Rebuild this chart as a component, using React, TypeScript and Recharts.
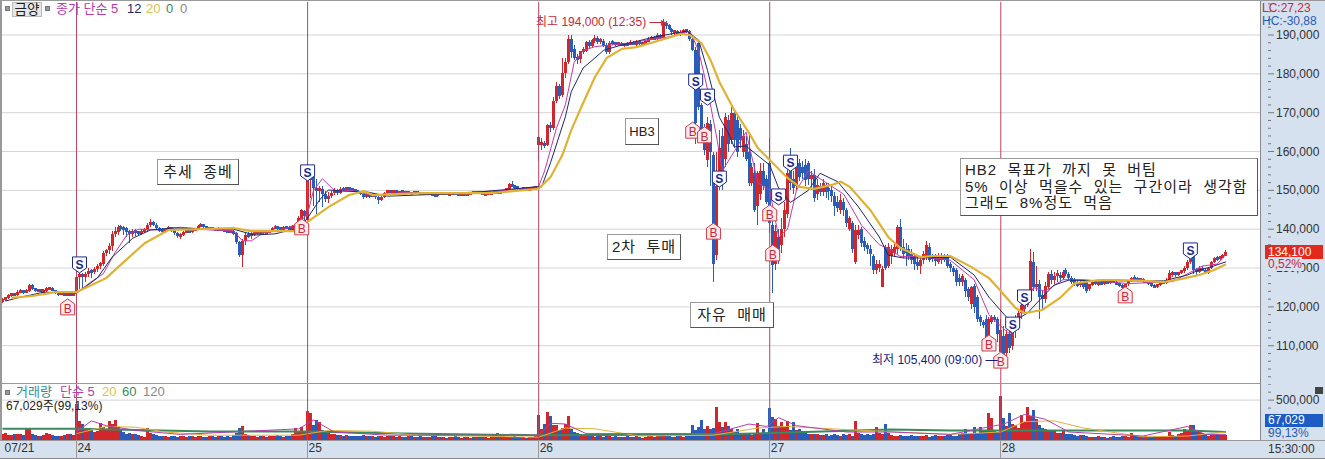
import { Bar, CartesianGrid, ComposedChart, Line, ReferenceDot, ReferenceLine, XAxis, YAxis } from 'recharts';

// 5 minute candles in thousand won: [open, high, low, close]
const day21Bars = [
  [121.5,122.3,121.1,121.9],[121.9,122.6,121.6,122.3],[122.3,123.2,122,122.9],[122.9,123.6,122.6,123.3],[123.3,123.5,122.7,123.1],[123.1,124.4,122.9,123.9],
  [123.9,124.6,123.7,124.2],[124.2,124.4,123.4,123.8],[123.8,124.5,123.6,124.1],[124.1,126,123.9,125.6],[125.6,126,124.4,124.6],[124.6,124.8,123.8,124.1],
  [124.1,124.7,123.9,124.3],[124.3,124.5,123.6,123.9],[123.9,124.5,123.7,124.1],[124.1,125,123.9,124.7],[124.7,125.2,124.4,124.9],[124.9,125.1,124,124.3],
  [124.3,124.4,123.3,123.7],[123.7,123.9,122.9,123.3],[123.3,123.8,123,123.5],[123.5,123.7,122.7,123.1],[123.1,123.7,122.8,123.4],[123.4,123.6,122.7,123],[123,123.9,122.8,123.6],
];
const day24Bars = [
  [124,127.8,122.2,127.6],[127.6,129.5,124.5,128.4],[128.4,128.8,124.8,127.8],[127.8,129,126.5,128.5],[128.5,130,127.8,129.3],[129.3,129.8,127.5,129],
  [129,130.2,128.5,129.8],[129.8,131,129,130.4],[130.4,131.6,129.8,131.2],[131,134.4,130.5,133.8],[133.8,135,133,134.6],[134.6,136.4,133.5,135.6],
  [135.6,139.5,134.5,138.8],[138.8,140.5,138,139.4],[139.4,141,138.5,140.6],[140.6,141,139.5,140.4],[140.4,140.8,138.5,140.2],[140.2,140.6,138,139.4],
  [139.4,139.8,136.5,138.8],[138.8,140,138,139.6],[139.6,140,138.3,139.2],[139.2,139.6,138.4,139],[139,140,138.5,139.4],[139.4,140.2,139,139.8],
  [139.8,141.5,139.2,141],[141,142.6,140.5,141.8],[141.8,142.2,140.8,141.2],[141.2,141.6,139.8,140.2],[140.2,140.5,139.2,139.8],[139.8,140.2,138.8,139.4],
  [139.4,140.2,139,139.9],[139.9,140.8,139.6,140.4],[140.4,140.6,139.4,139.8],[139.8,140.1,138.6,139.1],[139.1,139.4,137.8,138.3],[138.3,139,137.6,138.6],
  [138.6,139.5,138.3,139.2],[139.2,140,138.9,139.6],[139.6,139.9,139,139.4],[139.4,140.2,139.1,139.8],[139.8,140.4,139.6,140],[140,141,139.8,140.8],
  [140.8,141.6,140.5,141.2],[141.2,141.4,140.3,140.6],[140.6,140.9,140,140.2],[140.2,140.6,139.9,140.3],[140.3,140.5,139.8,140.1],[140.1,140.4,139.7,139.9],
  [139.9,140.5,139.6,140.2],[140.2,140.4,139.6,139.8],[139.8,140.1,139.3,139.6],[139.6,140,139,139.2],[139.2,139.7,139,139.4],[139.4,139.7,138.5,138.9],
  [138.9,139.3,136.2,136.6],[136.6,137,132.8,133.4],[133.4,137.6,130.3,137],[137,139.2,136,138.6],[138.6,139.2,137.8,138.2],[138.2,139.4,137.6,138.9],
  [138.9,139.6,138.3,139],[139,139.7,138.6,139.3],[139.3,139.8,138.8,139.2],[139.2,139.8,138.8,139.4],[139.4,139.7,138.7,139.1],[139.1,139.9,138.9,139.5],
  [139.5,140.6,139.2,140.2],[140.2,141.2,140,140.6],[140.6,140.9,139.9,140.3],[140.3,140.6,139.7,140.1],[140.1,140.8,139.9,140.5],[140.5,140.8,140.1,140.4],
  [140.4,140.7,139.9,140.2],[140.2,141,140,140.6],[140.6,141.4,140.3,141],[141,143.4,140.6,143],[139.6,145.2,139.2,145],[144.8,145,141,143.5],
];
const day25Bars = [
  [142.4,157.4,142,152.7],[152.7,156.5,148,154],[154.5,155,146,150.5],[150.5,153,144,149.8],[149.8,151,147,150.4],[150.4,151,145.7,149],
  [149,149.8,147,147.8],[147.8,149.5,146.8,148.6],[148.6,149.8,148,149.2],[149.2,150.6,148.8,150],[150,150.3,148.8,149.4],[149.4,150.8,149.1,150.4],
  [150.4,150.8,149.9,150.2],[150.2,150.9,149.9,150.6],[150.6,150.8,150.1,150.5],[150.5,150.6,149.9,150.2],[150.2,150.4,149.7,149.9],[149.9,150.1,149.3,149.6],
  [149.6,149.8,148.8,149.1],[149.1,149.3,147.9,148.4],[148.4,149.4,148,149],[149,149.2,148.1,148.6],[148.6,149.2,148.2,148.9],[148.9,149,147.8,148.2],
  [148.2,148.5,146.6,147.6],[147.6,148.6,147.2,148.3],[148.3,149.6,148,149.4],[149.4,150,149,149.8],[149.8,150,149.3,149.6],[149.6,150.1,149.3,149.9],
  [149.9,150,149.2,149.4],[149.4,149.9,149.1,149.7],[149.7,149.8,149.2,149.5],[149.5,149.7,149,149.3],[149.3,149.6,149.1,149.4],[149.4,149.5,149,149.2],
  [149.2,149.7,149,149.5],[149.5,149.6,149.2,149.4],[149.4,149.5,148.9,149.1],[149.1,149.5,149,149.3],[149.3,149.4,148.8,149],[149,149.4,148.8,149.2],
  [149.2,149.3,148.6,148.8],[148.8,149,148.3,148.6],[148.6,149.4,148.4,149.2],[149.2,149.3,148.8,149],[149,149.5,148.8,149.3],[149.3,149.4,148.8,149],
  [149,149.3,148.8,149.1],[149.1,149.5,148.9,149.3],[149.3,149.4,148.8,149.1],[149.1,149.2,148.7,148.9],[148.9,149.2,148.7,149],[149,149.1,148.5,148.7],
  [148.7,149.2,148.5,149.1],[149.1,149.6,149,149.4],[149.4,149.5,149.1,149.3],[149.3,149.6,149.2,149.5],[149.5,149.6,149.1,149.3],[149.3,149.4,148.7,148.9],
  [148.9,149.2,148.7,149],[149,149.4,148.9,149.2],[149.2,149.6,149.1,149.4],[149.4,149.7,149.3,149.5],[149.5,149.7,149.1,149.3],[149.3,149.8,149.2,149.6],
  [149.6,150.2,149.4,150],[150,150.6,149.8,150.4],[150.4,152,150.1,151.6],[151.6,152.4,150.8,151],[151,151.3,150.4,150.8],[150.8,151,150.2,150.5],
  [150.5,150.7,150,150.2],[150.2,150.9,150,150.6],[150.6,150.8,149.9,150.1],[150.1,150.6,150,150.4],[150.4,150.9,150.1,150.6],[150.6,150.9,150.3,150.7],
];
const day26Bars = [
  [163.7,163.9,157.5,161.8],[161.8,163.5,160.5,162.2],[162.2,162.6,161,161.5],[161.7,167.2,161.5,166.8],[166.8,167.5,165,166],[166,174,165.5,173],
  [173,178,172.5,176.8],[177,177.5,173.5,174.2],[174.5,184,174,180.2],[180.2,184,179,183],[183,190,182.5,189],[189,190,184,185.6],
  [186.3,187.5,183.5,184.2],[184.2,185,182.5,183.8],[183.8,186,182.8,185.8],[185.8,187,185,186.2],[186,188.5,185.5,188.2],[188.2,188.8,186.5,187.2],
  [187.2,189,186.8,188.6],[188.6,190,188,189.2],[189.2,189.8,187.8,188.2],[188.2,189.3,187.8,188.8],[188.5,188.9,187,187.2],[187.5,188,185,185.5],
  [185.5,188.5,185,188],[188,188.6,187.3,187.9],[187.9,188.3,187.2,187.6],[187.6,188,187.1,187.8],[187.8,188.2,187.3,187.5],[187.5,188,187,187.7],
  [187.7,188.2,187.2,187.6],[187.6,188.6,187.3,188.2],[188.2,188.4,187.3,187.5],[187.5,188.6,187.2,188.4],[188.4,188.6,187.5,187.8],[187.8,188.2,187.4,187.9],
  [187.9,188.7,187.7,188.4],[188.4,189.4,188.1,189],[189,189.8,188.7,189.4],[189.4,189.7,188.6,189],[189,190.4,188.8,190],[190,190.2,188.9,189.2],
  [189.3,194,189,193],[193,193.6,191.6,192.5],[192.5,192.9,191.2,191.6],[191.6,191.8,190,190.8],[190.6,191.4,189.6,191],[191,191.4,189.8,190.2],
  [190.2,191.2,189.8,190.8],[190.8,191.6,190.4,191.2],[191.2,191.5,190.6,191],[191,191.2,188.5,188.9],[188.9,189.3,186,186.2],[186.2,187,162,167.3],
  [188,188.3,170.8,171.5],[172,172.5,164,165.5],[165.5,167,159,160.5],[157.7,169,156,167.3],[167,168,151,160],[159,160,126.4,131],
  [133.4,160,132,151],[151,165.5,150,161],[164,166,150,152],[158,170,156,169],[168,169.5,160,162],[163,171.5,162,170],
  [170,171,161,163],[168,169.5,158.5,160],[166,167,161,163],[160,165.5,158.5,164],[162,164,157.5,158],[160,165,151,152],
  [152,157,151,156],[154.5,157,144.5,145],[146,155,141,154.5],[149,157,147.5,155],[155,157,150,151],[153,154,146.5,147],
];
const day27Bars = [
  [157,163.5,139,141.5],[141,144,123.6,130.7],[131,141,129.5,139.5],[138,140,131,133],[136,143,134,140],[140,147,138,145],
  [144,156,143,154.5],[158,161,150,152],[153,155,149,150.5],[151,158.5,150,157],[157,158,152.5,153.5],[156,157.5,153,154.5],
  [156.5,158,151,152.6],[157,157.5,151.5,152.8],[152.8,155,150,154],[154,155.5,147,148],[149,153,147.5,151.5],[151,152,148.5,149.5],
  [149.5,153,148.5,151.8],[151.5,152,148,149.5],[150.5,152,147.5,150],[150,151,147,148.5],[148.5,149.5,143.5,146],[147,148.5,144.5,145.5],
  [145,149,144,147.5],[147,148,143.5,145],[145,145.5,140.5,141.5],[140,143.5,139.5,142.8],[141.5,142,134,135],[131.5,141,131,139.7],
  [138.5,141,137.5,139.8],[140,140.5,135.5,136.5],[137,138,134.5,135.5],[136,136.5,133.5,135],[135,136,130.5,133.5],[133,133.5,128.5,129.5],
  [129.5,132,128.5,131],[130,132,129,131],[125,130.5,125,129.8],[135.5,136,129.5,130],[130.5,136.5,130,135.5],[133,136,131,135],
  [134,136.5,133,135.5],[135,141,133.5,140.5],[140.5,142.5,134.5,135.5],[135.5,137.5,132.5,133.5],[135,136.5,130.5,134],[135,136,132,133],
  [133.5,135,131,132],[133,134,129.5,131],[131.5,133,129.5,130.5],[130.5,133,128.5,132],[132,134.5,131,133.5],[132.5,137,132,136],
  [135.5,136.5,131.5,132],[133,133.5,131.5,132.5],[132.5,133.5,130.5,132],[131.5,134,131,132.5],[132,134,131,133],[133,133.5,131.5,132],
  [133,133.5,130,130.5],[131,131.5,129,130],[130,130.5,128,129],[129.5,130,125.5,126.5],[127.5,128.5,125.5,126.5],[126.5,128.5,125.5,128],
  [127,127.5,122.5,124],[124.5,125,121.5,122.5],[120.7,125.5,119.5,125],[125.5,126,118.5,120],[122.5,123,116,117],[117.5,118,115,116],
  [116,116.5,114.5,115.5],[117,118,109,110.5],[110.5,117.5,109,117],[116,117.8,115.5,117.4],[117.4,117.8,116,116.8],[116.8,117.5,111,113],
];
const day28Bars = [
  [108.4,117,105.4,114],[112.5,115,106.5,107.5],[108,114,107,113],[113,115,108,109.5],[110,116,109,115],[115,118,112,116.5],
  [116,119,114,118.5],[118.5,121.5,117,120.5],[119.5,122,118.5,121],[120.5,124,120,123.5],[123.5,135,123,131.8],[131.6,134.2,124,125],
  [125.5,130.5,124,125.5],[126,127,117,122.5],[123,124,119.5,122],[122,126.5,121,125.5],[125,129,124.5,128.5],[128.5,129.5,126,127],
  [127,129,126,128],[128,129.5,126.5,128.5],[128,129,126.5,127.5],[127.5,129.5,127,129],[129.5,130,128,128.5],[128.5,129,127,127.5],
  [127.5,128,126,126.5],[127,127.5,125.5,126],[126.5,127,125,125.5],[125.7,127,125,126.5],[126.5,127,124.5,125],[126.5,127,123.5,124],
  [124.5,126,124,125.8],[125.8,126.6,125.4,126.4],[126.4,126.8,125.7,126],[126,126.5,125.5,126.2],[126.2,126.6,125.6,125.9],[125.9,126.8,125.6,126.5],
  [126.5,126.9,126,126.2],[126.2,127,125.9,126.7],[126.7,127,126.1,126.4],[126.4,126.6,125.6,125.8],[125.8,126.2,125.2,125.5],[125.5,125.8,124.6,125],
  [125,126,124.8,125.8],[125.8,127,125.5,126.8],[126.8,127.8,126.4,127.5],[127.5,128.2,126.9,127.3],[127.3,127.6,126.5,127],[127,127.5,126.6,127.2],
  [127.2,127.4,126.2,126.5],[126.5,127,126.2,126.8],[126.8,127,125.7,126],[126,126.3,125,125.4],[125.4,125.8,124.8,125.2],[125.2,126,124.8,125.8],
  [125.8,126.4,125.5,126.1],[126.1,126.6,125.8,126.3],[126.3,127.4,126,127],[127,129.5,126.8,128.6],[128.6,129.3,127.8,128.8],[128.8,129,127.8,128.2],
  [128.2,129,127.9,128.8],[128.8,129.6,128.4,129.2],[129.2,130.4,128.8,130],[130,132,129.6,131.6],[131.6,133,131,132.8],[134,134.6,128.5,129.5],
  [129.5,130,128.3,129],[129,130.4,128.7,130],[130,130.6,129.2,129.5],[129.5,130,128.4,128.8],[128.8,130.2,128.5,130],[130,131.8,129.7,131.5],
  [131.5,132.8,131.2,132.5],[132.5,133,131.8,132.2],[132.2,133.2,131.9,133],[133,133.6,132.6,133.2],[133.2,134.6,133,134.1],
];

// volume per bar, thousand shares
const volumes21 = [70,85,60,60,75,80,70,60,140,135,80,60,55,50,60,85,75,60,55,45,50,65,70,75,60];
const volumes24 = [450,235,200,150,120,140,100,110,215,165,130,235,200,255,160,120,100,80,90,70,75,60,50,40,150,90,70,60,50,45,55,40,45,50,40,55,45,40,50,45,40,55,45,35,40,50,45,40,45,50,40,45,40,60,90,150,170,80,60,55,45,40,50,45,40,50,45,55,60,50,40,50,55,70,155,100,165,100];
const volumes25 = [365,340,190,255,230,130,100,90,70,75,60,65,55,60,50,45,55,50,45,60,50,45,55,40,45,50,40,45,50,55,40,45,35,40,45,50,40,35,45,40,35,40,45,50,40,35,40,30,35,40,45,35,30,40,35,30,35,40,35,40,35,30,45,60,90,65,50,40,35,40,45,35,40,35,30,35,40,45];
const volumes26 = [317,140,198,352,300,190,185,120,150,198,300,132,100,90,70,60,55,45,50,40,45,50,40,60,50,40,45,40,35,40,45,35,40,45,35,30,40,45,50,40,55,66,60,50,45,40,35,45,50,40,55,70,185,120,167,246,140,176,141,150,418,220,160,220,180,132,100,141,90,80,70,90,60,80,207,90,132,80];
const volumes27 = [396,286,264,180,220,160,242,130,220,120,141,110,90,80,75,70,80,65,60,75,55,60,70,65,55,80,60,75,50,233,90,70,60,80,65,70,167,85,70,198,90,60,55,50,65,55,50,45,60,55,45,50,55,60,40,50,60,55,45,50,60,70,50,45,70,90,132,80,90,162,85,162,110,130,333,277,120,100];
const volumes28 = [546,277,180,333,200,192,150,312,220,418,300,376,269,190,150,141,130,120,110,90,85,107,70,75,77,60,55,65,64,45,40,35,40,45,35,40,30,35,45,40,35,50,45,40,90,60,50,40,35,45,40,35,45,40,50,45,55,98,60,50,70,90,141,120,192,192,130,120,90,70,55,60,65,70,60,65,67];

// bar index and value
const ma5Points = [[25,123.6],[30,126.5],[34,128.5],[38,134],[42,138.5],[46,140],[52,139.8],[60,140.5],[70,139.8],[78,139.6],[81,137],[84,137],[88,139],[95,140],[100,141.5],[103,144],[105,150],[108,153],[112,150],[118,150],[125,148.6],[135,149.4],[150,149.2],[170,150],[181,151],[183,155],[187,166],[190,172],[193,183],[196,186],[200,187],[210,187.8],[225,189.5],[232,191],[235,186],[238,176],[241,164],[243,155],[247,160],[251,165],[255,152],[259,150],[262,138],[265,140],[268,150],[272,155],[278,152],[284,149],[290,141],[296,136],[299,135],[303,133],[310,133],[320,132],[328,127],[333,118],[337,115],[340,113],[344,118],[348,125],[352,124],[358,127],[365,127],[380,126],[395,126.5],[405,130.5],[410,131],[413,133.5]];
const ma12Points = [[1,121.5],[5,122.3],[14,123.8],[25,123.5],[32,127.4],[37,132.8],[44,137.7],[50,139.8],[58,140.3],[78,140],[85,138.5],[92,138.8],[100,140.3],[103,142.9],[107,147.5],[110,150.1],[115,149.8],[123,149.6],[130,148.5],[157,149.3],[180,150.9],[182,150.9],[185,157.1],[190,168.9],[192,175.4],[196,181.5],[200,184.1],[203,186.1],[208,187.2],[220,189.5],[231,191],[235,188.7],[238,180.9],[242,168.8],[245,164.8],[247,161.2],[251,161.4],[259,156.5],[262,150.6],[266,146.9],[272,150],[276,154.4],[282,152.2],[289,145.7],[296,138],[299,133.3],[304,132.6],[310,132.6],[320,132.8],[328,128.2],[333,122.5],[339,117.3],[342,116.6],[346,118.4],[351,122.5],[355,125.6],[360,126.9],[370,126.7],[392,126.7],[400,128.2],[404,129.5],[408,130.3],[413,131.6]];
const ma20Points = [[3,122.3],[10,122.8],[18,123.8],[25,123.8],[35,127.4],[41,131.6],[48,136.4],[56,139.8],[67,140],[78,140.3],[84,139.5],[100,139.5],[103,141.9],[110,145.7],[117,148.8],[122,149.8],[125,148.8],[142,149.3],[165,149.3],[181,150.4],[185,153.4],[189,159.1],[192,165.5],[196,172.5],[200,179.2],[204,184.1],[209,186.4],[214,186.9],[220,188.2],[229,190.3],[232,190],[236,187.9],[239,183.6],[242,177.9],[247,170.7],[252,164.8],[255,160.9],[259,157.8],[265,153.2],[269,150.9],[274,150.4],[280,151.4],[283,152.2],[286,150.9],[293,144.9],[299,138],[303,135.2],[310,132.8],[314,133.1],[320,133.1],[327,130.3],[333,127.4],[336,124.9],[342,119.7],[345,118.4],[351,119.2],[357,122.3],[362,126.1],[370,126.9],[377,126.9],[386,126.7],[392,126.4],[398,127.2],[404,128.2],[409,129.5],[413,131]];
const volMa5Points = [[25,100],[30,240],[35,180],[45,120],[60,70],[100,140],[105,250],[112,100],[130,60],[181,60],[185,210],[190,200],[197,80],[240,80],[252,200],[258,170],[262,280],[268,180],[285,100],[300,100],[320,70],[338,200],[345,320],[352,260],[360,100],[385,50],[400,170],[406,70],[413,70]];
const volMa20Points = [[25,80],[35,170],[45,160],[55,100],[70,60],[100,60],[110,120],[125,110],[140,60],[181,35],[190,150],[200,140],[215,50],[240,60],[255,150],[265,170],[285,130],[320,70],[337,100],[345,230],[355,240],[365,150],[385,40],[400,50],[413,100]];
const volMa60Points = [[0,140],[25,140],[70,107],[103,107],[135,80],[181,60],[240,70],[259,88],[300,132],[320,120],[400,120],[413,100]];

// buy and sell flags: bar index, price level in thousand won
const sellFlags = [[26,130.8],[103,154.5],[234,177.9],[238,174],[242,152.9],[262,148.3],[266,157],[341,115.3],[345,122.3],[401,134.4]];
const buyFlags = [[22,120],[101,140.6],[233,165.5],[237,164.3],[240,139.5],[259,144.2],[260,133.9],[333,110.7],[337,106.3],[379,123.1]];

const dayStarts = [25, 103, 181, 259, 337];
const dateTicks = [0, 25, 103, 181, 259, 337];
const dateLabels = ['07/21', '24', '25', '26', '27', '28'];
const priceMajorTicks = [110, 120, 130, 140, 150, 160, 170, 180, 190];
const priceTicks = [102,104,106,108,110,112,114,116,118,120,122,124,126,128,130,132,134,136,138,140,142,144,146,148,150,152,154,156,158,160,162,164,166,168,170,172,174,176,178,180,182,184,186,188,190,192,194,196,198];
const volumeTicks = [100, 200, 300, 400, 500, 600, 700];

const RED = '#d0262c';
const BLUE = '#2a5cb8';
const DAY_LINE = '#b8445e';
const PANEL = '#d5e1ee';
const FONT = '"Liberation Sans", "Noto Sans CJK KR", sans-serif';
const SLOTS = 425;

const allBars = [...day21Bars, ...day24Bars, ...day25Bars, ...day26Bars, ...day27Bars, ...day28Bars];
const allVolumes = [...volumes21, ...volumes24, ...volumes25, ...volumes26, ...volumes27, ...volumes28];

const rows: any[] = Array.from({ length: SLOTS }, (_, i) => {
  const b = allBars[i];
  return b ? { i, open: b[0], high: b[1], low: b[2], close: b[3], volume: allVolumes[i] } : { i };
});
const addPoints = (key: string, points: number[][]) => points.forEach(([i, v]) => { rows[i][key] = v; });
addPoints('ma5', ma5Points);
addPoints('ma12', ma12Points);
addPoints('ma20', ma20Points);
addPoints('vma5', volMa5Points);
addPoints('vma20', volMa20Points);
addPoints('vma60', volMa60Points);

function Candle(props: any) {
  const { x, y, width, height, payload } = props;
  if (payload.high == null || !height) return null;
  const unit = height / (payload.high - payload.low);
  const up = payload.close >= payload.open;
  const rawTop = y + (payload.high - Math.max(payload.open, payload.close)) * unit;
  const rawH = Math.abs(payload.close - payload.open) * unit;
  // the body never gets thinner than 3px, as in the trading screen
  const bodyH = Math.max(3, rawH);
  const top = rawTop - (bodyH - rawH) / 2;
  const left = Math.round(x + width / 2 - 1.5);
  const color = up ? RED : BLUE;
  return (
    <g shapeRendering="crispEdges">
      <rect x={left + 1} y={y} width={1} height={height} fill={color} />
      <rect x={left} y={top} width={3} height={bodyH} fill={color} />
    </g>
  );
}

function VolumeBar(props: any) {
  const { x, y, width, height, payload } = props;
  if (payload.volume == null) return null;
  const color = payload.close >= payload.open ? RED : BLUE;
  return <rect x={Math.round(x + width / 2 - 1.5)} y={y} width={3} height={height} fill={color} shapeRendering="crispEdges" />;
}

function SellFlag({ cx, cy }: any) {
  return (
    <g>
      <path d={`M${cx - 7} ${cy - 8}H${cx + 7}V${cy + 3}L${cx} ${cy + 8}L${cx - 7} ${cy + 3}Z`} fill="#fff" stroke="#1c2a90" />
      <text x={cx} y={cy + 4} textAnchor="middle" fontSize={12} fontWeight="bold" fill="#1c2a90" fontFamily={FONT}>S</text>
    </g>
  );
}

function BuyFlag({ cx, cy }: any) {
  return (
    <g>
      <path d={`M${cx} ${cy - 8}L${cx + 7} ${cy - 3}V${cy + 8}H${cx - 7}V${cy - 3}Z`} fill="#fdeaec" stroke="#d23a48" />
      <text x={cx} y={cy + 6} textAnchor="middle" fontSize={12} fill="#c8283c" fontFamily={FONT}>B</text>
    </g>
  );
}

function PriceTick({ x, y, payload }: any) {
  const major = payload.value % 10 === 0;
  return (
    <g>
      <line x1={x} x2={x + (major ? 6 : 3)} y1={y} y2={y} stroke="#777" />
      {major && (
        <text x={x + 8} y={y + 4} fontSize={12} fill="#333" fontFamily={FONT}>
          {`${payload.value},000`}
        </text>
      )}
    </g>
  );
}

function VolumeTick({ x, y, payload }: any) {
  const major = payload.value === 500;
  return (
    <g>
      <line x1={x} x2={x + (major ? 6 : 3)} y1={y} y2={y} stroke="#777" />
      {major && <text x={x + 8} y={y + 4} fontSize={12} fill="#333" fontFamily={FONT}>500,000</text>}
    </g>
  );
}

function DateTick({ x, y, payload }: any) {
  const label = dateLabels[dateTicks.indexOf(payload.value)];
  return (
    <text x={x + (payload.value === 0 ? 2 : 1)} y={y + 4} fontSize={12} fill="#333" fontFamily={FONT}>{label}</text>
  );
}

function Note({ left, top, width, height, children, center = true, size = 15, spacing = 1 }: any) {
  return (
    <div style={{ position: 'absolute', left, top, width, height, boxSizing: 'border-box', background: '#fff', border: '1px solid #9a9a9a', borderRightColor: '#555', borderBottomColor: '#555', fontFamily: FONT, fontSize: size, letterSpacing: spacing, lineHeight: center ? `${height - 2}px` : '16.5px', textAlign: center ? 'center' : 'left', color: '#222', whiteSpace: 'pre', padding: center ? 0 : '3px 0 0 4px' }}>
      {children}
    </div>
  );
}

function Label({ left, top, color, children, size = 12, background }: any) {
  return <div style={{ position: 'absolute', left, top, color, background, fontFamily: FONT, fontSize: size, lineHeight: '14px', whiteSpace: 'pre' }}>{children}</div>;
}

export default function App() {
  return (
    <div style={{ position: 'absolute', left: 0, top: 0, width: 1325, height: 459, background: '#fff', overflow: 'hidden' }}>
      <div style={{ position: 'absolute', left: 1260, top: 0, width: 65, height: 459, background: PANEL, borderLeft: '1px solid #888', boxSizing: 'border-box' }} />
      <div style={{ position: 'absolute', left: 0, top: 440, width: 1325, height: 19, background: PANEL, borderTop: '1px solid #999', borderBottom: '1px solid #888', boxSizing: 'border-box' }} />

      <div style={{ position: 'absolute', left: 0, top: 0 }}>
        <ComposedChart width={1325} height={384} data={rows} margin={{ top: 2, right: 0, bottom: 1, left: 1 }} barCategoryGap={0}>
          <CartesianGrid vertical={false} stroke="#d4d4d4" horizontalValues={priceMajorTicks} />
          <XAxis dataKey="i" hide />
          <YAxis orientation="right" width={65} domain={[100.4, 198.5]} allowDataOverflow ticks={priceTicks} interval={0} axisLine={false} tickLine={false} tick={<PriceTick />} />
          {dayStarts.map((d) => <ReferenceLine key={d} x={d} stroke={DAY_LINE} />)}
          <Bar dataKey={(d: any) => (d.high == null ? null : [d.low, d.high])} shape={<Candle />} isAnimationActive={false} />
          <Line dataKey="ma5" stroke="#c23aa8" strokeWidth={1} dot={false} connectNulls isAnimationActive={false} />
          <Line dataKey="ma12" stroke="#1c2a6a" strokeWidth={1} dot={false} connectNulls isAnimationActive={false} />
          <Line dataKey="ma20" stroke="#e0b234" strokeWidth={2.2} dot={false} connectNulls isAnimationActive={false} />
          {sellFlags.map(([i, p]) => <ReferenceDot key={`s${i}`} x={i} y={p} shape={<SellFlag />} />)}
          {buyFlags.map(([i, p]) => <ReferenceDot key={`b${i}`} x={i} y={p} shape={<BuyFlag />} />)}
        </ComposedChart>
      </div>

      <div style={{ position: 'absolute', left: 0, top: 384 }}>
        <ComposedChart width={1325} height={75} data={rows} margin={{ top: 0, right: 0, bottom: 0, left: 1 }} barCategoryGap={0}>
          <CartesianGrid vertical={false} stroke="#d4d4d4" horizontalValues={[500]} />
          <XAxis dataKey="i" height={19} ticks={dateTicks} interval={0} axisLine={false} tickLine={false} tick={<DateTick />} />
          <YAxis orientation="right" width={65} domain={[0, 702]} allowDataOverflow ticks={volumeTicks} interval={0} axisLine={false} tickLine={false} tick={<VolumeTick />} />
          <Bar dataKey="volume" shape={<VolumeBar />} isAnimationActive={false} />
          <Line dataKey="vma60" stroke="#3a8a5c" strokeWidth={2} dot={false} connectNulls isAnimationActive={false} />
          <Line dataKey="vma20" stroke="#e0b234" strokeWidth={1} dot={false} connectNulls isAnimationActive={false} />
          <Line dataKey="vma5" stroke="#b040b0" strokeWidth={1} dot={false} connectNulls isAnimationActive={false} />
          {dayStarts.map((d) => <ReferenceLine key={d} x={d} stroke={DAY_LINE} />)}
        </ComposedChart>
      </div>

      {/* frame */}
      <div style={{ position: 'absolute', left: 0, top: 0, width: 2, height: 440, background: '#999' }} />
      <div style={{ position: 'absolute', left: 0, top: 0, width: 1325, height: 1, background: '#999' }} />
      <div style={{ position: 'absolute', left: 0, top: 383, width: 1260, height: 1, background: '#999' }} />
      <div style={{ position: 'absolute', left: 76, top: 440, width: 1, height: 19, background: '#999' }} />
      <div style={{ position: 'absolute', left: 307, top: 440, width: 1, height: 19, background: '#999' }} />
      <div style={{ position: 'absolute', left: 538, top: 440, width: 1, height: 19, background: '#999' }} />
      <div style={{ position: 'absolute', left: 769, top: 440, width: 1, height: 19, background: '#999' }} />
      <div style={{ position: 'absolute', left: 1000, top: 440, width: 1, height: 19, background: '#999' }} />

      {/* price legend */}
      <div style={{ position: 'absolute', left: 5, top: 6, width: 3, height: 3, background: '#999', border: '1px solid #777' }} />
      <div style={{ position: 'absolute', left: 12, top: 2, width: 30, height: 15, boxSizing: 'border-box', background: '#e6e6e6', border: '1px solid #bbb', fontFamily: FONT, fontSize: 13.5, lineHeight: '13px', textAlign: 'center', color: '#222' }}>금양</div>
      <div style={{ position: 'absolute', left: 45, top: 6, width: 3, height: 3, background: '#999', border: '1px solid #777' }} />
      <Label left={56} top={2} color="#b83ab0" size={13}>종가 단순 5</Label>
      <Label left={127} top={2} color="#1c2a6a" size={13}>12</Label>
      <Label left={146} top={2} color="#dcc050" size={13}>20</Label>
      <Label left={166} top={2} color="#3a8a5c" size={13}>0</Label>
      <Label left={180} top={2} color="#888" size={13}>0</Label>

      {/* notes */}
      <Note left={157} top={159} width={82} height={26}>추세  종베</Note>
      <Note left={625} top={118} width={34} height={27} size={13} spacing={0}>HB3</Note>
      <Note left={607} top={234} width={74} height={26}>2차  투매</Note>
      <Note left={690} top={302} width={84} height={26}>자유  매매</Note>
      <Note left={960} top={158} width={298} height={58} center={false}>{'HB2  목표가  까지  못  버팀\n5%  이상  먹을수  있는  구간이라  생각함\n그래도  8%정도  먹음'}</Note>

      <Label left={536} top={15} color="#c8283c">최고 194,000 (12:35) —▸</Label>
      <Label left={872} top={353} color="#1a1a80">최저 105,400 (09:00) —</Label>

      {/* right panel readouts */}
      <Label left={1262} top={1} color="#c8283c">LC:27,23</Label>
      <Label left={1262} top={14} color="#2a5cb8">HC:-30,88</Label>
      <div style={{ position: 'absolute', left: 1265, top: 245, width: 58, height: 14, background: '#e3281c', color: '#fff', fontFamily: FONT, fontSize: 12, lineHeight: '14px', paddingLeft: 3, boxSizing: 'border-box' }}>134,100</div>
      <Label left={1268} top={257} color="#c8283c" background={PANEL}>0,52%</Label>
      <div style={{ position: 'absolute', left: 1265, top: 414, width: 58, height: 13, background: '#1c5cc4', color: '#fff', fontFamily: FONT, fontSize: 12, lineHeight: '13px', paddingLeft: 3, boxSizing: 'border-box' }}>67,029</div>
      <Label left={1268} top={426} color="#2a5cb8">99,13%</Label>
      <Label left={1268} top={442} color="#333">15:30:00</Label>
      <div style={{ position: 'absolute', left: 1315, top: 387, width: 8, height: 7, background: '#444' }} />

      {/* volume legend */}
      <div style={{ position: 'absolute', left: 5, top: 390, width: 3, height: 3, background: '#999', border: '1px solid #777' }} />
      <Label left={16} top={385} color="#2f8f9a" size={13}>거래량</Label>
      <Label left={60} top={385} color="#b040b0" size={13}>단순 5</Label>
      <Label left={102} top={385} color="#dcc050" size={13}>20</Label>
      <Label left={122} top={385} color="#3a8a5c" size={13}>60</Label>
      <Label left={143} top={385} color="#888" size={13}>120</Label>
      <Label left={6} top={399} color="#222">67,029주(99,13%)</Label>
    </div>
  );
}
